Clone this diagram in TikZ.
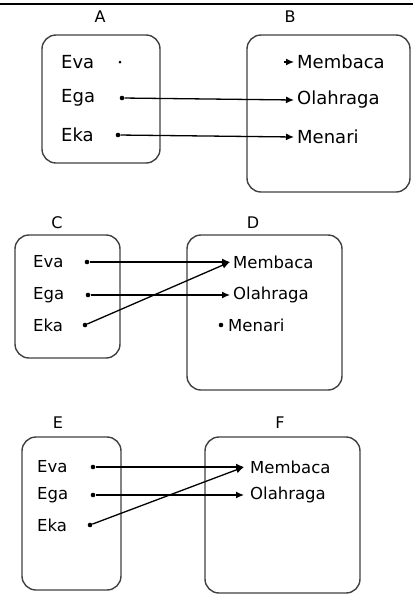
\documentclass[tikz,border=0pt]{standalone}
\usepackage{fontspec}
\setmainfont{DejaVu Sans}
\usetikzlibrary{arrows.meta,positioning}

\begin{document}
\begin{tikzpicture}[x=1pt,y=-1pt,
  setbox/.style={draw=black!75,line width=1.4pt,rounded corners=14pt,inner sep=0pt},
  settitle/.style={font=\fontsize{16}{16}\selectfont},
  itembig/.style={anchor=west,inner sep=0pt,font=\fontsize{18}{18}\selectfont},
  item/.style={anchor=west,inner sep=0pt,font=\fontsize{16.5}{16.5}\selectfont},
  dot/.style={circle,fill=black,inner sep=0pt,minimum size=4.6pt},
  map/.style={-{Latex[length=8pt,width=7pt]},line width=1.3pt}]

\useasboundingbox (0,0) rectangle (413,595);
\draw[line width=1.2pt] (0,4) coordinate(tl) -- (413,4) coordinate(tr);

% first pair, A to B
\node[setbox,minimum width=118pt,minimum height=128pt] (boxA) at (101,99) {};
\node[setbox,minimum width=163pt,minimum height=157pt] (boxB) at (328.5,113.5) {};
\node[settitle] (tA) at (100,17) {A};
\node[settitle] (tB) at (290,17) {B};

\node[itembig] (evaA) at (61,62) {Eva};
\node[itembig] (egaA) at (61,98) {Ega};
\node[itembig] (ekaA) at (61,135) {Eka};
\node[dot,minimum size=3pt] (dEvaA) at (120,62) {};
\node[dot] (dEgaA) at (122,98) {};
\node[dot] (dEkaA) at (118,135) {};

\node[itembig] (membB) at (297,62) {Membaca};
\node[itembig] (olahB) at (297,100) {Olahraga};
\node[itembig] (menaB) at (297,137) {Menari};

\coordinate (stub) at (284,62);
\draw[map] (stub) -- ([xshift=-3pt]membB.west);
\draw[map] (dEgaA) -- ([xshift=-3pt]olahB.west);
\draw[map] (dEkaA) -- ([xshift=-3pt]menaB.west);

% second pair, C to D
\node[setbox,minimum width=105pt,minimum height=123pt] (boxC) at (67.5,296.5) {};
\node[setbox,minimum width=155pt,minimum height=155pt] (boxD) at (264.5,312.5) {};
\node[settitle] (tC) at (57,223) {C};
\node[settitle] (tD) at (253,223) {D};

\node[item] (evaC) at (33,262) {Eva};
\node[item] (egaC) at (33,295) {Ega};
\node[item] (ekaC) at (33,325) {Eka};
\node[dot] (dEvaC) at (87,262) {};
\node[dot] (dEgaC) at (88,295) {};
\node[dot] (dEkaC) at (85,325) {};

\node[item] (membD) at (233,262) {Membaca};
\node[item] (olahD) at (233,295) {Olahraga};
\node[item] (menaD) at (228,325) {Menari};
\node[dot] (dMenaD) at (221,325) {};

\draw[map] (dEvaC) -- ([xshift=-3pt]membD.west);
\draw[map] (dEgaC) -- ([xshift=-3pt]olahD.west);
\draw[map] (dEkaC) -- ([xshift=-3pt]membD.west);

% third pair, E to F
\node[setbox,minimum width=99pt,minimum height=153pt] (boxE) at (71.5,513.5) {};
\node[setbox,minimum width=155pt,minimum height=156pt] (boxF) at (282.5,515) {};
\node[settitle] (tE) at (58,423) {E};
\node[settitle] (tF) at (280,423) {F};

\node[item] (evaE) at (37,467) {Eva};
\node[item] (egaE) at (37,495) {Ega};
\node[item] (ekaE) at (37,525) {Eka};
\node[dot] (dEvaE) at (93,467) {};
\node[dot] (dEgaE) at (93,495) {};
\node[dot] (dEkaE) at (90,525) {};

\node[item] (membF) at (250,467) {Membaca};
\node[item] (olahF) at (250,495) {Olahraga};

\draw[map] (dEvaE) -- ([xshift=-6pt]membF.west);
\draw[map] (dEgaE) -- ([xshift=-6pt]olahF.west);
\draw[map] (dEkaE) -- ([xshift=-6pt]membF.west);

\end{tikzpicture}
\end{document}
